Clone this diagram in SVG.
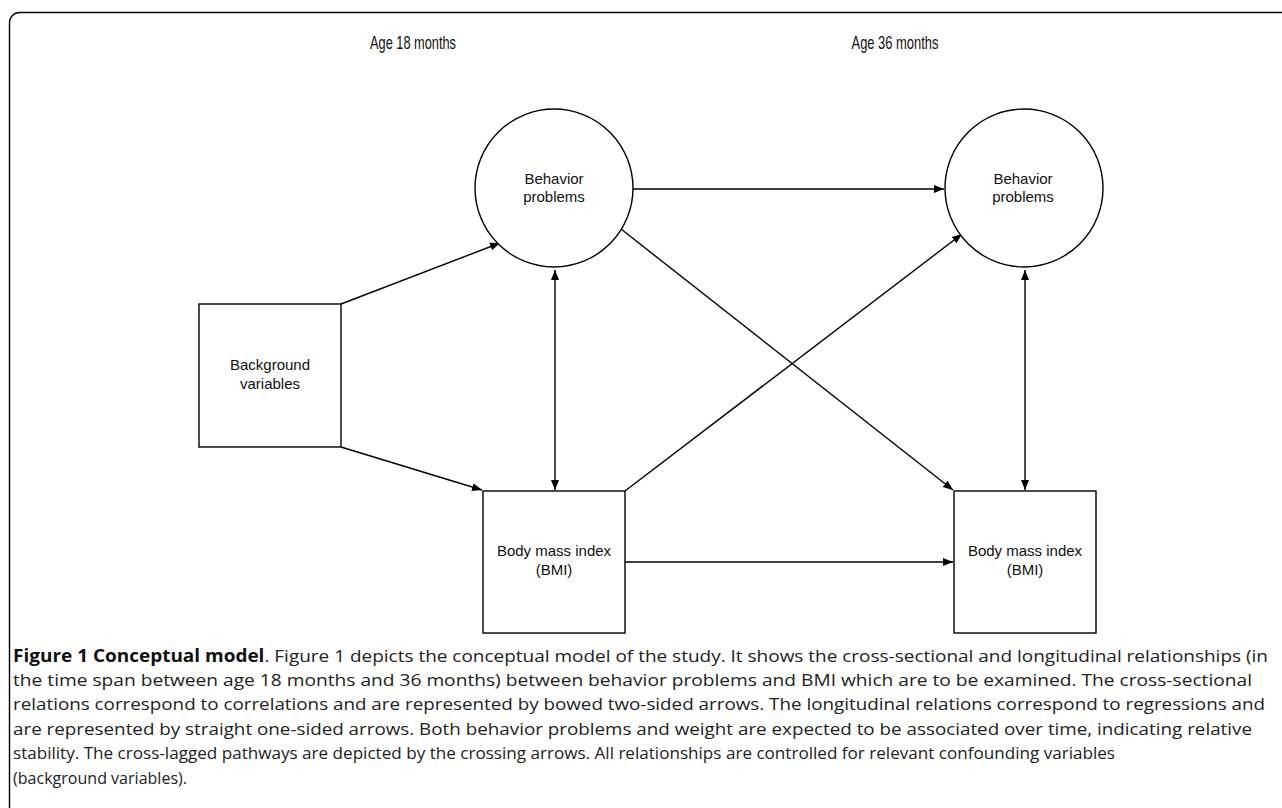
<svg xmlns="http://www.w3.org/2000/svg" width="1282" height="808" viewBox="0 0 1282 808">
<style>
.ln{stroke:#000;stroke-width:1.4;fill:none}
.nd{stroke:#000;stroke-width:1.4;fill:#fff}
.lb{font-family:"Liberation Sans",Arial,sans-serif;font-size:15px;fill:#111;text-anchor:middle}
.hd{font-family:"Liberation Sans",Arial,sans-serif;font-size:19px;fill:#111;text-anchor:middle}
.cp{font-family:"Open Sans","Noto Sans",sans-serif;font-size:17px;fill:#222}
.cb{font-weight:bold;fill:#111}
</style>
<defs>
<marker id="ah" viewBox="0 0 10 10" refX="10" refY="5" markerWidth="10" markerHeight="10" markerUnits="userSpaceOnUse" orient="auto-start-reverse">
<path d="M0,1 L10,5 L0,9 Z" fill="#000"/>
</marker>
</defs>
<rect width="1282" height="808" fill="#fff"/>
<rect x="9.5" y="12.5" width="1320" height="900" rx="10" ry="10" fill="none" stroke="#000" stroke-width="1.4"/>
<text class="hd" x="413" y="49" textLength="86" lengthAdjust="spacingAndGlyphs">Age 18 months</text>
<text class="hd" x="895" y="49" textLength="87" lengthAdjust="spacingAndGlyphs">Age 36 months</text>
<g id="connectors">
<line class="ln" x1="341" y1="304" x2="500" y2="243" marker-end="url(#ah)"/>
<line class="ln" x1="341" y1="447" x2="482" y2="490" marker-end="url(#ah)"/>
<line class="ln" x1="555" y1="270" x2="555" y2="490" marker-start="url(#ah)" marker-end="url(#ah)"/>
<line class="ln" x1="1025" y1="270" x2="1025" y2="490" marker-start="url(#ah)" marker-end="url(#ah)"/>
<line class="ln" x1="633" y1="189" x2="944" y2="189" marker-end="url(#ah)"/>
<line class="ln" x1="625" y1="562" x2="953" y2="562" marker-end="url(#ah)"/>
<line class="ln" x1="625" y1="491" x2="962" y2="234" marker-end="url(#ah)"/>
<line class="ln" x1="621" y1="229" x2="953" y2="490" marker-end="url(#ah)"/>
</g>
<g id="bp18">
<circle class="nd" cx="554" cy="188" r="79"/>
<text class="lb" x="554" y="184">Behavior</text>
<text class="lb" x="554" y="201.5">problems</text>
</g>
<g id="bp36">
<circle class="nd" cx="1024" cy="188" r="79"/>
<text class="lb" x="1023" y="184">Behavior</text>
<text class="lb" x="1023" y="201.5">problems</text>
</g>
<g id="background">
<rect class="nd" x="199" y="304" width="142" height="143"/>
<text class="lb" x="270" y="370">Background</text>
<text class="lb" x="270" y="388.5">variables</text>
</g>
<g id="bmi18">
<rect class="nd" x="483" y="491" width="142" height="142"/>
<text class="lb" x="554" y="556">Body mass index</text>
<text class="lb" x="554" y="575">(BMI)</text>
</g>
<g id="bmi36">
<rect class="nd" x="954" y="491" width="142" height="142"/>
<text class="lb" x="1025" y="556">Body mass index</text>
<text class="lb" x="1025" y="575">(BMI)</text>
</g>
<g id="caption">
<text class="cp" x="13" y="662" textLength="1255" lengthAdjust="spacingAndGlyphs"><tspan class="cb">Figure 1 Conceptual model</tspan>. Figure 1 depicts the conceptual model of the study. It shows the cross-sectional and longitudinal relationships (in</text>
<text class="cp" x="13" y="686" textLength="1239" lengthAdjust="spacingAndGlyphs">the time span between age 18 months and 36 months) between behavior problems and BMI which are to be examined. The cross-sectional</text>
<text class="cp" x="13" y="710" textLength="1252" lengthAdjust="spacingAndGlyphs">relations correspond to correlations and are represented by bowed two-sided arrows. The longitudinal relations correspond to regressions and</text>
<text class="cp" x="13" y="735" textLength="1239" lengthAdjust="spacingAndGlyphs">are represented by straight one-sided arrows. Both behavior problems and weight are expected to be associated over time, indicating relative</text>
<text class="cp" x="13" y="759" textLength="1102" lengthAdjust="spacingAndGlyphs">stability. The cross-lagged pathways are depicted by the crossing arrows. All relationships are controlled for relevant confounding variables</text>
<text class="cp" x="13" y="784" textLength="174" lengthAdjust="spacingAndGlyphs">(background variables).</text>
</g>
</svg>
